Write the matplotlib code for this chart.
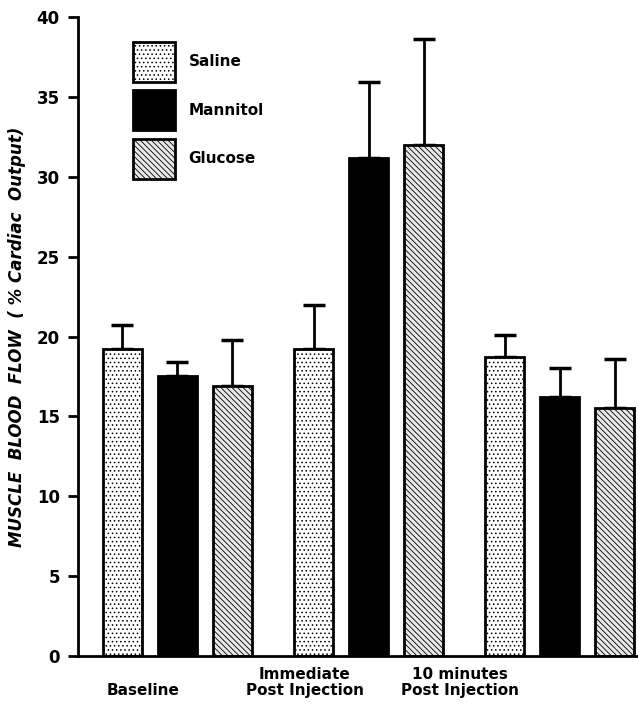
import numpy as np
import matplotlib
matplotlib.use("Agg")
import matplotlib.pyplot as plt

# data
groups = ["\nBaseline", "Immediate\nPost Injection", "10 minutes\nPost Injection"]
treatments = ["Saline", "Mannitol", "Glucose"]
saline = [19.2, 19.2, 18.7]
saline_err = [1.5, 2.8, 1.4]
mannitol = [17.5, 31.2, 16.2]
mannitol_err = [0.9, 4.7, 1.8]
glucose = [16.9, 32.0, 15.5]
glucose_err = [2.9, 6.6, 3.1]
yticks = [0, 5, 10, 15, 20, 25, 30, 35, 40]

plt.rcParams['font.family'] = ['DejaVu Sans']
plt.rcParams['hatch.linewidth'] = 0.6
plt.rcParams['hatch.color'] = '#333333'

fig = plt.figure(figsize=(6.38, 7.08), dpi=100)
ax = fig.add_axes([0.122, 0.0734, 0.877, 0.9026])

group_x = np.arange(3) * 3.48
width = 0.71
styles = [
    dict(facecolor='white', hatch='....'),
    dict(facecolor='black', hatch=None),
    dict(facecolor='#e8e8e8', hatch='\\\\\\\\\\\\'),
]
series = [(saline, saline_err), (mannitol, mannitol_err), (glucose, glucose_err)]

for i, ((vals, errs), st, name) in enumerate(zip(series, styles, treatments)):
    xs = group_x + (i - 1)
    ax.bar(xs, vals, width, edgecolor='black', linewidth=2.0, label=name,
           zorder=2, **st)
    ax.errorbar(xs, vals, yerr=[np.zeros(3), errs], fmt='none', ecolor='black',
                elinewidth=2.0, capsize=8, capthick=2.5, zorder=1)

ax.set_ylim(0, 40)
ax.set_xlim(-1.81, 8.37)
ax.set_yticks(yticks)
ax.set_yticklabels([str(t) for t in yticks], fontsize=12, fontweight='bold')
ax.tick_params(axis='y', direction='out', length=7, width=2, pad=6)

# category labels sit left of the group centres in the original
ax.set_xticks([-0.63, 2.32, 5.14])
ax.set_xticklabels(groups, fontsize=11, fontweight='bold', linespacing=1.1)
ax.tick_params(axis='x', length=0, pad=8)

for s in ['top', 'right']:
    ax.spines[s].set_visible(False)
ax.spines['left'].set_linewidth(2)
ax.spines['bottom'].set_linewidth(2)

ax.set_ylabel("MUSCLE  BLOOD  FLOW  ( % Cardiac  Output)", fontsize=12,
              fontweight='bold', fontstyle='italic', labelpad=8)

leg = ax.legend(loc='upper left', bbox_to_anchor=(0.098, 0.961), frameon=False,
                fontsize=11, handlelength=2.75, handleheight=3.65,
                labelspacing=0.55, handletextpad=0.9, borderpad=0,
                borderaxespad=0)
for t in leg.get_texts():
    t.set_fontweight('bold')

fig.savefig("out.png", dpi=100)
